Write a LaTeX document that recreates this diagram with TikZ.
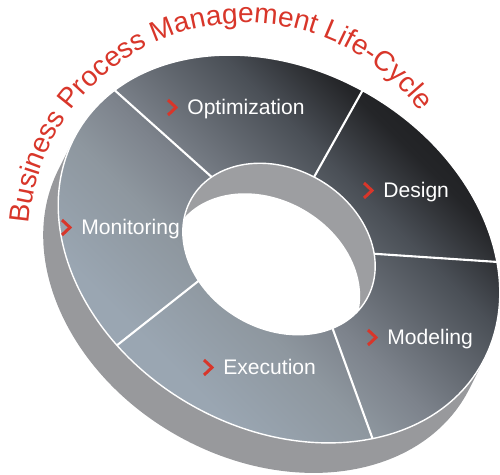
\documentclass[tikz,border=0pt]{standalone}
\usepackage{fontspec}
\setsansfont{Liberation Sans}
\usepackage{tikz}
\usetikzlibrary{decorations.text}

\definecolor{bpmred}{HTML}{D8362A}
\definecolor{sidegray}{HTML}{98999C}
\definecolor{wallgray}{HTML}{9D9EA1}
\definecolor{facedark}{HTML}{1B1C1E}
\definecolor{facedeep}{HTML}{242528}
\definecolor{faceopt}{HTML}{4A4F56}
\definecolor{facemid}{HTML}{7D838C}
\definecolor{facesoft}{HTML}{8E979F}
\definecolor{facelight}{HTML}{9AA6B2}

\pgfdeclareverticalshading{ringface}{100bp}{color(0bp)=(facelight); color(32bp)=(facelight);
  color(42bp)=(facesoft); color(48bp)=(facemid); color(60bp)=(faceopt); color(67bp)=(facedeep);
  color(74bp)=(facedark); color(100bp)=(facedark)}

\tikzset{
  stage/.style={text=white, font=\sffamily\fontsize{12}{14}\selectfont, inner sep=0pt, anchor=base west},
  chev/.style={draw=bpmred, line width=1.7pt, line join=miter},
  divider/.style={draw=white, line width=1.2pt},
  rim/.style={draw=white, line width=0.8pt},
}

\begin{document}
\begin{tikzpicture}[x=0.02cm, y=0.02cm]
  \useasboundingbox (0,0) rectangle (500,475);

  \begin{scope}[shift={(279,226)}, rotate=-30]
    % Side of the ring
    \fill[sidegray] (2.6:233 and 179) arc[start angle=2.6, end angle=182.6, x radius=233, y radius=179]
      -- ++(2,-33.5) arc[start angle=182.6, end angle=362.6, x radius=233, y radius=179] -- cycle;

    % Top face
    \shade[even odd rule, shading=ringface, shading angle=-45]
      (0,0) ellipse[x radius=233, y radius=179] (0,0) ellipse[x radius=101, y radius=80];

    % Hole with inner wall
    \fill[wallgray] (0,0) ellipse[x radius=101, y radius=80];
    \begin{scope}
      \clip (0,0) ellipse[x radius=101, y radius=80];
      \fill[white] (2,-33.5) ellipse[x radius=101, y radius=80];
    \end{scope}
    \draw[rim] (0,0) ellipse[x radius=233, y radius=179];
    \draw[rim] (0,0) ellipse[x radius=101, y radius=80];

    % Segment borders
    \coordinate (o1) at (162:233 and 179);   \coordinate (i1) at (159:101 and 80);
    \coordinate (o2) at (91.7:233 and 179);  \coordinate (i2) at (93.2:101 and 80);
    \coordinate (o3) at (33.1:233 and 179);  \coordinate (i3) at (32.9:101 and 80);
    \coordinate (o4) at (-41:233 and 179);   \coordinate (i4) at (-31.6:101 and 80);
    \coordinate (o5) at (-113.3:233 and 179); \coordinate (i5) at (-122.1:101 and 80);
    \draw[divider] (i1) -- (o1);
    \draw[divider] (i2) -- (o2);
    \draw[divider] (i3) -- (o3);
    \draw[divider] (i4) -- (o4);
    \draw[divider] (i5) -- (o5);
  \end{scope}

  % Stage labels
  \node[stage] (opt) at (187,360) {Optimization};
  \node[stage] (des) at (383,277) {Design};
  \node[stage] (mon) at (81,240) {Monitoring};
  \node[stage] (mod) at (387,130) {Modeling};
  \node[stage] (exe) at (223,100) {Execution};

  \draw[chev] ([shift={(-19,15)}]opt.base west) -- ++(8,-7.5) -- ++(-8,-7.5);
  \draw[chev] ([shift={(-19,15)}]des.base west) -- ++(8,-7.5) -- ++(-8,-7.5);
  \draw[chev] ([shift={(-19,15)}]mon.base west) -- ++(8,-7.5) -- ++(-8,-7.5);
  \draw[chev] ([shift={(-19,15)}]mod.base west) -- ++(8,-7.5) -- ++(-8,-7.5);
  \draw[chev] ([shift={(-19,15)}]exe.base west) -- ++(8,-7.5) -- ++(-8,-7.5);

  % Title along the rim
  \path[decorate, decoration={text along path, text align=center, text color=bpmred,
      text={|\sffamily\fontsize{16}{19}\selectfont|Business Process Management Life-Cycle}}]
    (245.5,235) ++(176:217) arc[start angle=176, end angle=36, radius=217];
\end{tikzpicture}
\end{document}
